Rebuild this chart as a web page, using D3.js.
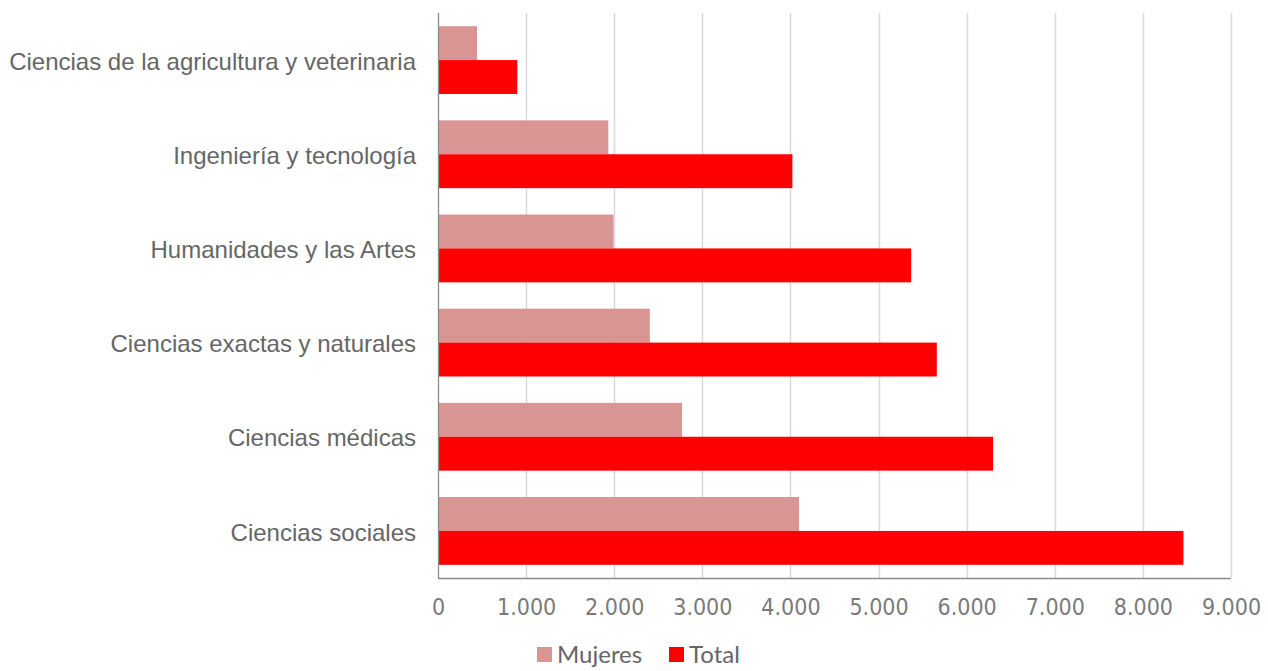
<!DOCTYPE html>
<html><head><meta charset="utf-8">
<script src="https://cdn.jsdelivr.net/npm/d3@7"></script>
<style>
body{margin:0;background:#fff;}
svg{display:block;}
</style></head>
<body>
<svg id="chart" width="1268" height="671"></svg>
<script>
const categories = ["Ciencias de la agricultura y veterinaria","Ingeniería y tecnología","Humanidades y las Artes","Ciencias exactas y naturales","Ciencias médicas","Ciencias sociales"];
const mujeres = [443, 1933, 1992, 2404, 2770, 4098];
const total = [900, 4022, 5370, 5661, 6300, 8460];
const tickValues = [0,1000,2000,3000,4000,5000,6000,7000,8000,9000];
const tickLabels = ["0","1.000","2.000","3.000","4.000","5.000","6.000","7.000","8.000","9.000"];
const seriesNames = ["Mujeres","Total"];
const colors = ["#d99594","#ff0000"];

const svg = d3.select("#chart");
const pLeft = 438, pRight = 1231, pTop = 13, pBottom = 578;
const x = d3.scaleLinear().domain([0,9000]).range([pLeft,pRight]);
const y = d3.scaleBand().domain(categories).range([pTop,pBottom]).paddingInner(0.28).paddingOuter(0.14);
const sub = d3.scaleBand().domain(seriesNames).range([0,y.bandwidth()]);

// gridlines
svg.append("g").selectAll("line").data(tickValues.slice(1)).join("line")
  .attr("x1",d=>Math.round(x(d))+0.5).attr("x2",d=>Math.round(x(d))+0.5)
  .attr("y1",pTop).attr("y2",pBottom)
  .attr("stroke","#d9d9d9").attr("stroke-width",1.5);

// bars
const data = categories.map((c,i)=>({c, vals:[mujeres[i], total[i]]}));
const groups = svg.append("g").selectAll("g").data(data).join("g")
  .attr("transform",d=>`translate(0,${y(d.c)})`);
groups.selectAll("rect").data(d=>d.vals.map((v,j)=>({v,j}))).join("rect")
  .attr("x",x(0)).attr("y",d=>sub(seriesNames[d.j]))
  .attr("width",d=>x(d.v)-x(0)).attr("height",sub.bandwidth())
  .attr("fill",d=>colors[d.j]);

// axes lines
svg.append("line").attr("x1",pLeft+0.5).attr("x2",pLeft+0.5).attr("y1",pTop).attr("y2",pBottom)
  .attr("stroke","#8c8c8c").attr("stroke-width",1.3);
svg.append("line").attr("x1",pLeft).attr("x2",pRight).attr("y1",pBottom+0.5).attr("y2",pBottom+0.5)
  .attr("stroke","#8c8c8c").attr("stroke-width",1.3);

// x axis labels
const xAxis = d3.axisBottom(x).tickValues(tickValues).tickFormat((d,i)=>tickLabels[i]).tickSize(0).tickPadding(0);
const gx = svg.append("g").attr("transform",`translate(0,${pBottom})`).call(xAxis);
gx.select(".domain").remove();
gx.selectAll("text").attr("dy",0).attr("y",37)
  .attr("font-family","'Liberation Sans Narrow','DejaVu Sans Condensed',sans-serif")
  .attr("font-size",23).attr("fill","#7a7a7a");

// y axis labels
const yAxis = d3.axisLeft(y).tickSize(0).tickPadding(0);
const gy = svg.append("g").attr("transform",`translate(${pLeft-22},0)`).call(yAxis);
gy.select(".domain").remove();
gy.selectAll("text").attr("font-family","'Liberation Sans',Arial,sans-serif")
  .attr("font-size",24).attr("fill","#666666").attr("dy","0.4em");

// legend
const leg = svg.append("g").attr("transform","translate(537,647)");
const items = [{n:"Mujeres",c:colors[0],x:0},{n:"Total",c:colors[1],x:132}];
items.forEach(it=>{
  leg.append("rect").attr("x",it.x).attr("y",0).attr("width",15).attr("height",15).attr("fill",it.c);
  leg.append("text").attr("x",it.x+20).attr("y",16).text(it.n)
    .attr("font-family","Lato,'Open Sans',sans-serif").attr("font-size",24).attr("fill","#666666");
});
</script>
</body></html>
